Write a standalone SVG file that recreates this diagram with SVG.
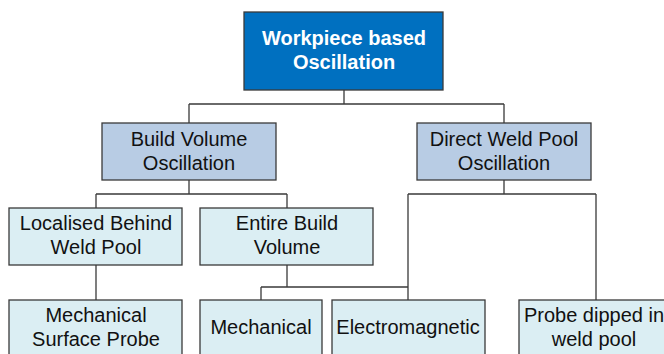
<svg xmlns="http://www.w3.org/2000/svg" width="664" height="354" viewBox="0 0 664 354">
<style>
.box{stroke:#3a3a3a;stroke-width:1.3}
.top{fill:#0070C0}
.l1{fill:#B8CCE4}
.l2{fill:#DBEEF3}
.t{font-family:"Liberation Sans",Arial,sans-serif;font-size:20px;fill:#111;text-anchor:middle}
.tb{font-family:"Liberation Sans",Arial,sans-serif;font-size:20px;font-weight:bold;fill:#fff;text-anchor:middle}
.c{fill:none;stroke:#3a3a3a;stroke-width:1.3}
</style>
<rect width="664" height="354" fill="#fff"/>
<g id="connectors">
<path class="c" d="M344,90 V104 M189,104 H504 M189,104 V123 M504,104 V123"/>
<path class="c" d="M189,180 V194 M96,194 H287 M96,194 V208 M287,194 V208"/>
<path class="c" d="M504,180 V194 M408,194 H596 M408,194 V300 M596,194 V300"/>
<path class="c" d="M96,265 V300"/>
<path class="c" d="M287,265 V287 M261,287 H408 M261,287 V300"/>
</g>
<g id="workpiece">
<rect class="box top" x="244" y="12" width="199" height="78"/>
<text class="tb" x="344" y="45">Workpiece based</text>
<text class="tb" x="344" y="69">Oscillation</text>
</g>
<g id="build-volume">
<rect class="box l1" x="102" y="123" width="174" height="57"/>
<text class="t" x="189" y="146">Build Volume</text>
<text class="t" x="189" y="170">Oscillation</text>
</g>
<g id="direct-weld">
<rect class="box l1" x="417" y="123" width="174" height="57"/>
<text class="t" x="504" y="146">Direct Weld Pool</text>
<text class="t" x="504" y="170">Oscillation</text>
</g>
<g id="localised">
<rect class="box l2" x="9" y="208" width="173" height="57"/>
<text class="t" x="96" y="230">Localised Behind</text>
<text class="t" x="96" y="254">Weld Pool</text>
</g>
<g id="entire">
<rect class="box l2" x="200" y="208" width="173" height="57"/>
<text class="t" x="287" y="230">Entire Build</text>
<text class="t" x="287" y="254">Volume</text>
</g>
<g id="mech-surface">
<rect class="box l2" x="9" y="300" width="173" height="62"/>
<text class="t" x="96" y="322">Mechanical</text>
<text class="t" x="96" y="346">Surface Probe</text>
</g>
<g id="mechanical">
<rect class="box l2" x="200" y="300" width="122" height="62"/>
<text class="t" x="261" y="334">Mechanical</text>
</g>
<g id="electromagnetic">
<rect class="box l2" x="332" y="300" width="153" height="62"/>
<text class="t" x="408" y="334">Electromagnetic</text>
</g>
<g id="probe-dipped">
<rect class="box l2" x="519" y="300" width="154" height="62"/>
<text class="t" x="594" y="322">Probe dipped in</text>
<text class="t" x="594" y="346">weld pool</text>
</g>
</svg>
